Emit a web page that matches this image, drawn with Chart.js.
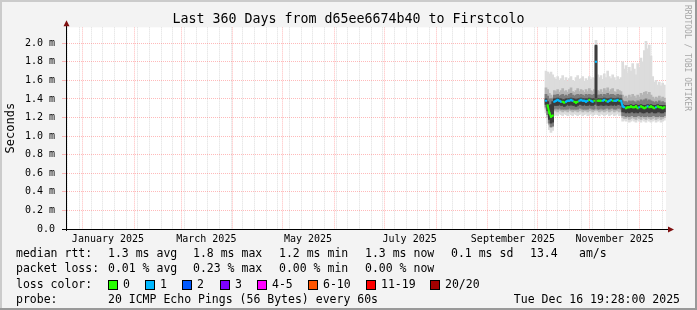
<!DOCTYPE html>
<html>
<head>
<meta charset="utf-8">
<script src="https://cdn.jsdelivr.net/npm/chart.js@4.4.1/dist/chart.umd.min.js"></script>
<style>
  html, body { margin: 0; padding: 0; background: #f3f3f3; }
  canvas { display: block; }
</style>
</head>
<body>
<canvas id="chart1" width="697" height="310"></canvas>
<script>
// --- data (day = days since start of the 360 day window) ---
const days = [
  288,289,290,291,292,293,294,295,296,297,298,299,
  300,301,302,303,304,305,306,307,308,309,310,311,
  312,313,314,315,316,317,318,319,320,321,322,323,
  324,325,326,327,328,329,330,331,332,333,334,335,
  336,337,338,339,340,341,342,343,344,345,346,347,
  348,349,350,351,352,353,354,355,356,357,358,359
];
// median rtt in ms
const median = [
  1.38,1.33,1.25,1.21,1.22,1.37,1.38,1.39,1.38,1.37,1.37,1.36,
  1.37,1.38,1.38,1.39,1.38,1.37,1.36,1.37,1.38,1.39,1.38,1.38,
  1.37,1.38,1.39,1.38,1.37,1.38,1.80,1.38,1.38,1.38,1.38,1.39,
  1.38,1.37,1.38,1.39,1.38,1.38,1.38,1.39,1.38,1.38,1.32,1.31,
  1.30,1.31,1.31,1.32,1.31,1.31,1.32,1.30,1.31,1.32,1.31,1.30,
  1.31,1.32,1.31,1.32,1.31,1.30,1.31,1.32,1.31,1.31,1.30,1.31
];
// lost pings (of 20) -> loss colour
const lost = [
  1,0,0,0,0,1,1,1,1,1,0,0,
  1,1,1,1,1,0,0,0,1,1,1,1,
  1,1,0,1,1,0,1,0,0,0,1,1,
  0,1,1,1,0,1,1,1,0,1,1,1,
  0,0,0,0,0,0,0,0,1,0,0,0,
  0,1,0,0,0,0,1,0,0,0,0,0
];
// smoke: outer (light) ... core (dark) bands, ms
const smokeMax = [
  1.70,1.69,1.67,1.69,1.66,1.63,1.61,1.64,1.60,1.62,1.65,1.60,
  1.63,1.59,1.62,1.64,1.60,1.59,1.63,1.65,1.61,1.62,1.64,1.59,
  1.62,1.60,1.64,1.61,1.63,1.62,2.03,1.66,1.63,1.65,1.61,1.67,
  1.63,1.70,1.64,1.62,1.66,1.63,1.60,1.64,1.61,1.63,1.80,1.72,
  1.76,1.68,1.74,1.70,1.78,1.72,1.66,1.78,1.74,1.84,1.80,1.92,
  2.02,1.94,1.98,1.86,1.64,1.58,1.60,1.55,1.58,1.54,1.57,1.55
];
const smokeMin = [
  1.25,1.14,1.07,1.04,1.06,1.22,1.23,1.22,1.24,1.23,1.22,1.24,
  1.23,1.22,1.24,1.23,1.22,1.24,1.23,1.22,1.23,1.24,1.22,1.23,
  1.24,1.22,1.23,1.24,1.22,1.23,1.25,1.23,1.22,1.24,1.23,1.22,
  1.23,1.24,1.22,1.23,1.24,1.22,1.23,1.24,1.22,1.23,1.16,1.17,
  1.16,1.17,1.15,1.16,1.17,1.16,1.15,1.17,1.16,1.15,1.17,1.16,
  1.15,1.17,1.16,1.15,1.16,1.17,1.15,1.16,1.17,1.15,1.16,1.17
];
const innerHi = [
  1.52,1.50,1.46,1.44,1.42,1.49,1.48,1.50,1.47,1.49,1.51,1.48,
  1.49,1.47,1.50,1.52,1.48,1.47,1.49,1.51,1.48,1.50,1.49,1.47,
  1.50,1.48,1.51,1.49,1.48,1.50,1.96,1.49,1.48,1.50,1.47,1.51,
  1.49,1.52,1.48,1.50,1.51,1.48,1.47,1.50,1.49,1.48,1.44,1.42,
  1.43,1.41,1.44,1.42,1.45,1.43,1.41,1.44,1.42,1.46,1.44,1.47,
  1.48,1.45,1.47,1.44,1.42,1.40,1.42,1.41,1.43,1.40,1.42,1.41
];
const innerLo = [
  1.29,1.20,1.12,1.09,1.10,1.27,1.27,1.26,1.28,1.27,1.26,1.27,
  1.27,1.26,1.28,1.27,1.26,1.27,1.27,1.26,1.27,1.28,1.26,1.27,
  1.27,1.26,1.27,1.28,1.26,1.27,1.30,1.27,1.26,1.27,1.27,1.26,
  1.27,1.28,1.26,1.27,1.28,1.26,1.27,1.27,1.26,1.27,1.20,1.19,
  1.19,1.20,1.18,1.19,1.20,1.19,1.18,1.20,1.19,1.18,1.20,1.19,
  1.18,1.20,1.19,1.18,1.19,1.20,1.18,1.19,1.20,1.18,1.19,1.20
];
const midHi = [
  1.45,1.43,1.40,1.40,1.40,1.44,1.44,1.45,1.43,1.44,1.45,1.43,
  1.44,1.43,1.45,1.46,1.44,1.43,1.44,1.45,1.44,1.45,1.44,1.43,
  1.45,1.44,1.45,1.44,1.44,1.45,1.97,1.44,1.44,1.45,1.43,1.45,
  1.44,1.46,1.44,1.45,1.45,1.44,1.43,1.45,1.44,1.44,1.38,1.37,
  1.37,1.36,1.38,1.37,1.38,1.37,1.36,1.38,1.37,1.39,1.38,1.39,
  1.40,1.38,1.39,1.38,1.37,1.36,1.37,1.36,1.38,1.36,1.37,1.36
];
const midLo = [
  1.31,1.23,1.14,1.10,1.11,1.29,1.30,1.29,1.30,1.29,1.29,1.29,
  1.29,1.29,1.30,1.29,1.29,1.29,1.29,1.29,1.30,1.30,1.29,1.29,
  1.29,1.29,1.30,1.30,1.29,1.29,1.35,1.29,1.29,1.30,1.29,1.29,
  1.30,1.30,1.29,1.30,1.30,1.29,1.29,1.30,1.30,1.29,1.22,1.22,
  1.21,1.22,1.21,1.22,1.22,1.21,1.21,1.22,1.22,1.21,1.22,1.21,
  1.21,1.22,1.21,1.21,1.22,1.22,1.21,1.21,1.22,1.21,1.21,1.22
];
const coreHi = [
  1.40,1.37,1.33,1.34,1.37,1.40,1.40,1.41,1.40,1.40,1.39,1.39,
  1.40,1.40,1.40,1.41,1.40,1.40,1.39,1.40,1.40,1.41,1.40,1.40,
  1.40,1.40,1.41,1.40,1.40,1.40,1.98,1.40,1.40,1.40,1.40,1.41,
  1.40,1.40,1.40,1.41,1.40,1.40,1.40,1.41,1.40,1.40,1.34,1.33,
  1.33,1.33,1.33,1.34,1.33,1.33,1.34,1.33,1.33,1.34,1.33,1.33,
  1.33,1.34,1.33,1.34,1.33,1.33,1.33,1.34,1.33,1.33,1.33,1.33
];
const coreLo = [
  1.34,1.27,1.18,1.14,1.15,1.33,1.33,1.33,1.34,1.33,1.33,1.32,
  1.33,1.34,1.33,1.34,1.33,1.33,1.32,1.33,1.34,1.34,1.33,1.34,
  1.33,1.33,1.34,1.33,1.33,1.34,1.41,1.33,1.33,1.34,1.33,1.33,
  1.34,1.33,1.33,1.34,1.33,1.34,1.33,1.34,1.34,1.33,1.26,1.26,
  1.25,1.26,1.25,1.26,1.26,1.25,1.26,1.25,1.26,1.26,1.25,1.25,
  1.26,1.26,1.25,1.26,1.26,1.25,1.25,1.26,1.26,1.25,1.25,1.26
];

const monthLabels = ["January 2025", "March 2025", "May 2025", "July 2025", "September 2025", "November 2025"];
const labelMonths = [0, 2, 4, 6, 8, 10];

const rttLegend = ["1.3 ms avg", "1.8 ms max", "1.2 ms min", "1.3 ms now", "0.1 ms sd", "13.4", "am/s"];
const lossLegend = ["0.01 % avg", "0.23 % max", "0.00 % min", "0.00 % now"];
const lossNames = ["0", "1", "2", "3", "4-5", "6-10", "11-19", "20/20"];
const lossColors = ["#26ff00", "#00b8ff", "#0059ff", "#7e00ff", "#ff00ff", "#ff5500", "#ff0000", "#a10000"];
const probeText = "20 ICMP Echo Pings (56 Bytes) every 60s";
const stampText = "Tue Dec 16 19:28:00 2025";

// --- time axis helpers ---
const DAY = 86400000;
const endTime = Date.UTC(2025, 11, 16, 19, 28);
const startTime = endTime - 360 * DAY;
const dayOf = t => (t - startTime) / DAY;

function lossBucket(n) {
  if (n <= 3) return n;
  if (n <= 5) return 4;
  if (n <= 10) return 5;
  if (n <= 19) return 6;
  return 7;
}

function buildTimeTicks(scale) {
  const majors = [];
  for (let m = 0; m < 12; m++) majors.push(dayOf(Date.UTC(2025, m, 1)));
  const ticks = majors.map(v => ({ value: v, kind: "major" }));
  for (let t = Date.UTC(2024, 11, 23); t <= endTime; t += 7 * DAY) {
    const v = dayOf(t);
    if (!majors.some(m => Math.abs(m - v) < 0.01)) ticks.push({ value: v, kind: "minor" });
  }
  labelMonths.forEach((m, i) => {
    ticks.push({ value: dayOf(Date.UTC(2025, m, 1)) + 15, kind: "label", text: monthLabels[i] });
  });
  scale.ticks = ticks.filter(t => t.value >= 0 && t.value <= 360).sort((a, b) => a.value - b.value);
}

const pts = arr => days.map((d, i) => ({ x: d, y: arr[i] }));
const band = (lo, hi) => days.map((d, i) => ({ x: d, y: [lo[i], hi[i]] }));

// median line only joins neighbours that share a loss colour, like smokeping
const segColor = c => {
  const a = lossBucket(lost[c.p0DataIndex]), b = lossBucket(lost[c.p1DataIndex]);
  return a === b ? lossColors[b] : "transparent";
};

const MONO = '"DejaVu Sans Mono"';
const majorCol = "rgba(255,90,90,0.42)";
const minorCol = "rgba(150,150,150,0.32)";
const kindOf = c => (c.tick && c.tick.kind) || "";
const isMajorY = c => c.tick ? Math.round(c.tick.value * 10) % 2 === 0 : false;

const rrdFrame = {
  id: "rrdFrame",
  beforeDraw(chart) {
    const c = chart.ctx, a = chart.chartArea, W = chart.width, H = chart.height;
    c.save();
    c.fillStyle = "#f3f3f3";
    c.fillRect(0, 0, W, H);
    c.fillStyle = "#cbcbcb";
    c.fillRect(0, 0, W, 2);
    c.fillRect(0, 0, 2, H);
    c.fillStyle = "#999999";
    c.fillRect(0, H - 2, W, 2);
    c.fillRect(W - 2, 0, 2, H);
    c.fillStyle = "#ffffff";
    c.fillRect(a.left, a.top, a.right - a.left, a.bottom - a.top);
    c.restore();
  },
  afterDraw(chart) {
    const c = chart.ctx, a = chart.chartArea;
    c.save();
    // axis lines with arrows
    const y0 = Math.round(a.bottom) + 0.5, x0 = Math.round(a.left) + 0.5;
    c.strokeStyle = "#000";
    c.lineWidth = 1;
    c.beginPath();
    c.moveTo(a.left - 4, y0); c.lineTo(a.right + 4, y0);
    c.moveTo(x0, a.bottom + 2); c.lineTo(x0, a.top - 3);
    c.stroke();
    c.fillStyle = "#7f1010";
    c.beginPath();
    c.moveTo(a.right + 2, y0 - 3); c.lineTo(a.right + 8, y0); c.lineTo(a.right + 2, y0 + 3);
    c.closePath(); c.fill();
    c.beginPath();
    c.moveTo(x0 - 3, a.top - 1); c.lineTo(x0, a.top - 7); c.lineTo(x0 + 3, a.top - 1);
    c.closePath(); c.fill();

    // watermark
    c.save();
    c.translate(687, 5);
    c.rotate(Math.PI / 2);
    c.font = "8px " + MONO;
    c.fillStyle = "#a6a6a6";
    c.textBaseline = "middle";
    c.fillText("RRDTOOL / TOBI OETIKER", 0, 0);
    c.restore();

    // legend
    c.font = "11.5px " + MONO;
    c.fillStyle = "#000";
    c.textBaseline = "middle";
    const cols = [108, 193, 279, 365, 451, 530, 579];
    c.fillText("median rtt:", 16, 254);
    rttLegend.forEach((s, i) => c.fillText(s, cols[i], 254));
    c.fillText("packet loss:", 16, 269.5);
    lossLegend.forEach((s, i) => c.fillText(s, cols[i], 269.5));
    c.fillText("loss color:", 16, 285);
    const boxX = [108, 145, 182, 220, 257, 308, 366, 430];
    lossNames.forEach((s, i) => {
      c.fillStyle = lossColors[i];
      c.fillRect(boxX[i] + 0.5, 280.5, 9, 9);
      c.strokeStyle = "#000";
      c.strokeRect(boxX[i] + 0.5, 280.5, 9, 9);
      c.fillStyle = "#000";
      c.fillText(s, boxX[i] + 15, 285);
    });
    c.fillText("probe:", 16, 300.5);
    c.fillText(probeText, 108, 300.5);
    c.textAlign = "right";
    c.fillText(stampText, 680, 300.5);
    c.restore();
  }
};

function renderChart() {
  const ctx = document.querySelector("#chart1").getContext("2d");
  new Chart(ctx, {
    type: "bar",
    data: {
      datasets: [
        {
          type: "line",
          label: "median rtt",
          data: pts(median),
          borderWidth: 2,
          borderColor: lossColors[0],
          segment: { borderColor: segColor },
          pointStyle: "rect",
          pointRadius: 1.5,
          pointBorderWidth: 0,
          pointBackgroundColor: lost.map(n => lossColors[lossBucket(n)]),
          order: 0,
        },
        { label: "core", data: band(coreLo, coreHi), backgroundColor: "#3c3c3c", order: 1 },
        { label: "mid", data: band(midLo, midHi), backgroundColor: "#7c7c7c", order: 2 },
        { label: "inner", data: band(innerLo, innerHi), backgroundColor: "#b4b4b4", order: 3 },
        { label: "outer", data: band(smokeMin, smokeMax), backgroundColor: "#dcdcdc", order: 4 },
      ],
    },
    options: {
      responsive: false,
      animation: false,
      events: [],
      layout: { padding: { left: 0, right: 0, top: 0.4, bottom: 65 } },
      datasets: {
        bar: { grouped: false, barThickness: 2, borderWidth: 0, borderSkipped: false },
      },
      plugins: {
        legend: { display: false },
        tooltip: { enabled: false },
        title: {
          display: true,
          text: "Last 360 Days from d65ee6674b40 to Firstcolo",
          color: "#000",
          font: { family: MONO, size: 13.3, weight: "normal" },
          padding: { top: 11, bottom: 0 },
        },
      },
      scales: {
        x: {
          type: "linear",
          min: 0,
          max: 360,
          offset: false,
          afterBuildTicks: buildTimeTicks,
          afterFit: s => { s.height = 16; },
          grid: {
            offset: false,
            color: c => kindOf(c) === "major" ? majorCol : kindOf(c) === "minor" ? minorCol : "transparent",
            tickColor: "transparent",
            tickLength: 2,
          },
          border: { display: true, color: "#000", dash: [1, 1] },
          ticks: {
            autoSkip: false,
            maxRotation: 0,
            padding: 2,
            color: "#000",
            font: { family: MONO, size: 10 },
            callback: (v, i, ticks) => (ticks[i] && ticks[i].text) || "",
          },
        },
        y: {
          min: 0,
          max: 2.17,
          afterFit: s => { s.width = 66; },
          grid: {
            color: c => isMajorY(c) ? majorCol : minorCol,
            tickColor: c => isMajorY(c) ? majorCol : "transparent",
            tickLength: 4,
          },
          border: { display: true, color: "#000", dash: [1, 1] },
          ticks: {
            stepSize: 0.1,
            includeBounds: false,
            padding: 7,
            color: "#000",
            font: { family: MONO, size: 10 },
            callback: v => {
              const k = Math.round(v * 10);
              if (k % 2 !== 0) return "";
              return k === 0 ? "0.0" : (k / 10).toFixed(1) + " m";
            },
          },
          title: {
            display: true,
            text: "Seconds",
            color: "#000",
            font: { family: MONO, size: 12 },
            padding: { top: 4, bottom: 4 },
          },
        },
        y2: {
          position: "right",
          afterFit: s => { s.width = 31; },
          grid: { display: false },
          border: { display: false },
          ticks: { display: false },
        },
      },
    },
    plugins: [rrdFrame],
  });
}
renderChart();
</script>
</body>
</html>
